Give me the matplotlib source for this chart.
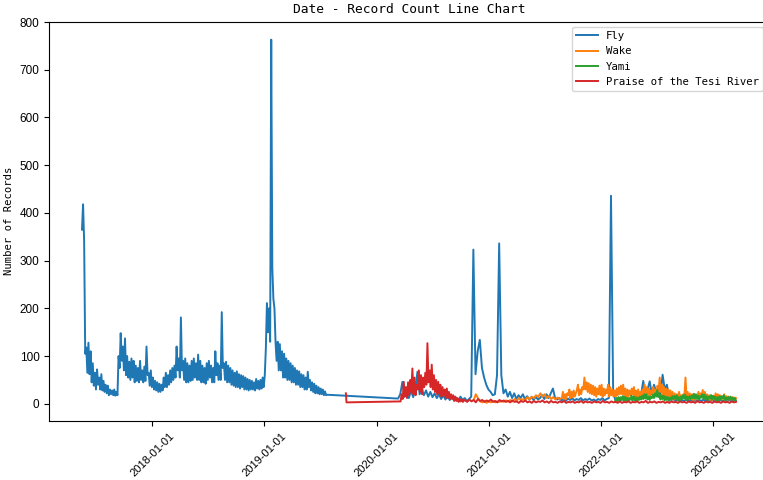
import pandas as pd
import matplotlib
matplotlib.use("Agg")
import matplotlib.pyplot as plt
import matplotlib.dates as mdates

# record counts (half-week steps in the dense parts)
fly_start_a = "2017-05-17"
fly_a = [365, 418, 340, 105, 118, 65, 128, 62, 110, 45, 85, 38, 65, 30, 72, 40,
         55, 30, 62, 28, 48, 25, 40, 22, 38, 18, 30, 20, 28, 18, 30, 17, 25, 18,
         100, 75, 148, 90, 120, 70, 137, 60, 100, 55, 88, 50, 95, 55, 90, 45,
         80, 48, 75, 45, 90, 50, 70, 45, 78, 48, 120, 60, 65, 38, 70, 35, 55, 30,
         48, 28, 45, 25, 42, 25, 40, 28, 55, 35, 65, 35, 60, 40, 70, 45, 75, 50,
         80, 55, 120, 70, 95, 55, 181, 70, 90, 50, 95, 45, 85, 45, 80, 48, 90, 50,
         95, 55, 85, 50, 103, 50, 90, 45, 80, 45, 75, 42, 85, 50, 90, 55, 80, 45,
         75, 45, 110, 60, 85, 50, 80, 50, 192, 75, 85, 50, 88, 45, 80, 45, 75, 40,
         70, 38, 65, 35, 68, 35, 62, 32, 60, 35, 58, 30, 55, 30, 52, 28, 50, 30,
         48, 30, 45, 28, 52, 32, 48, 30, 50, 32, 55, 35, 60, 116, 211, 150, 200, 130,
         763, 285, 220, 200, 130, 90, 130, 70, 125, 70, 110, 55, 105, 55, 95, 50,
         90, 50, 85, 45, 80, 45, 75, 40, 70, 40, 68, 35, 62, 35, 60, 30, 55, 30,
         67, 35, 50, 28, 45, 25, 42, 22, 38, 22, 35, 20, 32, 20, 30, 18, 26, 18, 19]
fly_start_b = "2020-03-11"
fly_b = [11, 20, 46, 15, 25, 12, 28, 14, 30, 67, 20, 32, 18, 28, 15, 25, 14, 22,
         12, 20, 10, 18, 9, 16, 8, 14, 7, 12, 6, 15, 8, 12, 6, 10, 15,
         323, 62, 110, 134, 75, 55, 40, 30, 25, 18,
         20, 60, 336, 60, 22, 30, 15, 25, 12, 22, 10, 18, 12, 20, 10, 16, 9, 14, 8, 15, 9, 12,
         18, 10, 20, 12, 22, 32, 12, 9, 12, 7, 10, 6, 11, 8, 12, 7, 10, 8, 12, 7, 10, 8, 11, 7, 9, 6, 10,
         8, 12, 7, 10, 12, 436, 25,
         8, 12, 7, 10, 9, 12, 7, 10, 8, 12, 9, 10,
         20, 48, 18, 30, 47, 20, 40, 25, 30, 20, 61, 30, 40, 12, 8, 10,
         6, 9, 5, 8, 6, 9, 5, 8, 6, 7, 5, 8, 6, 9, 5, 7, 6, 8, 5, 7, 6, 8, 5, 7, 6, 8, 5, 7, 6]

wake_start_a = "2020-11-12"
wake_a = [8, 20, 12, 5, 3, 6, 2, 5, 3, 6, 3, 5, 4, 6, 4, 7, 5,
          8, 5, 10, 6, 12, 7, 10, 8, 14, 9, 15, 12, 18, 14,
          22, 15, 20, 12, 16, 10, 14, 9, 13, 10]
wake_start_b = "2021-08-26"
wake_b = [12, 25, 10, 20, 10, 22, 18, 30, 12, 25, 14, 28, 15, 22, 29, 40, 18, 30,
          20, 35, 30, 55, 30, 45, 25, 43, 22, 40, 20, 38, 18, 35, 15, 32, 20, 38,
          18, 40, 15, 32, 18, 30, 22, 40, 15, 35, 18, 30, 15, 28, 15, 32, 18, 35,
          20, 38, 20, 40, 18, 32, 15, 30, 15, 28, 18, 32, 20, 35, 12, 28, 15, 30,
          15, 25, 18, 30, 18, 40, 20, 35, 20, 32, 15, 28, 22, 35, 18, 30, 18, 38,
          25, 55, 25, 40, 15, 35, 15, 32, 12, 30, 12, 28, 10, 25, 8, 22, 10, 20,
          10, 25, 12, 18, 15, 20, 15, 55, 12, 25, 10, 22, 10, 20, 8, 20, 8, 18,
          12, 25, 12, 22, 15, 29, 15, 25, 10, 20, 10, 18, 8, 18, 8, 16, 10, 22,
          12, 20, 9, 18, 9, 15, 10, 20, 10, 16, 8, 15, 8, 14, 9, 14, 9, 13, 12]

yami_start = "2022-02-16"
yami = [6, 12, 5, 14, 7, 14, 8, 16, 5, 15, 6, 13, 8, 12, 9, 17, 8, 16, 7, 14,
        6, 13, 8, 15, 9, 17, 10, 20, 11, 20, 9, 16, 8, 15, 12, 19, 12, 22, 15, 29,
        14, 22, 9, 18, 10, 17, 7, 15, 8, 14, 6, 13, 9, 16, 10, 16, 10, 18, 7, 14,
        7, 15, 10, 18, 11, 19, 8, 15, 9, 16, 10, 17, 12, 21, 11, 20, 10, 17, 9, 16,
        13, 20, 10, 19, 9, 16, 8, 15, 11, 18, 9, 17, 10, 15, 7, 14, 8, 16, 9, 16,
        11, 18, 7, 13, 9, 14, 8, 15, 10, 13, 6, 12, 8]

tesi_dates_a = ["2019-09-23", "2019-09-25"]
tesi_a = [22, 3]
tesi_start_b = "2020-03-19"
tesi_b = [5, 20, 10, 46, 15, 35, 12, 45, 18, 50, 25, 74, 20, 55, 18, 40, 30, 70,
          25, 60, 20, 55, 35, 65, 40, 127, 45, 70, 35, 82, 30, 60, 25, 50, 20, 46,
          22, 40, 15, 35, 18, 30, 12, 32, 12, 25, 10, 20, 10, 18, 6, 15, 6, 12,
          4, 10, 5, 9, 4, 8]
tesi_start_c = "2020-10-15"
tesi_c = [7, 4, 9, 5, 8, 3, 10, 6, 8, 4, 7, 5, 9, 4, 6, 3, 8, 5, 7, 4,
          6, 3, 7, 4, 5, 2, 6, 4, 7, 3, 5, 2, 6, 3, 5, 4, 7, 3, 5, 2,
          6, 3, 4, 2, 5, 3, 6, 2, 4, 3, 5, 2, 4, 3, 6, 2, 5, 3, 4, 2,
          5, 3, 4, 2, 6, 3, 4, 2, 5, 3, 4, 2, 5, 2, 4, 3, 5, 2, 4, 3,
          5, 2, 4, 3, 6, 2, 4, 3, 5, 2, 4, 3, 5, 2, 4, 2, 5, 3, 4, 2,
          5, 3, 4, 2, 5, 3, 4, 2, 6, 3, 4, 2, 5, 3, 4, 2, 5, 3, 4, 2,
          5, 3, 4, 2, 5, 3, 4]


def series(start, values, step="7D"):
    return pd.Series(values, index=pd.date_range(start, periods=len(values), freq=step))


half = "84h"
fly = pd.concat([series(fly_start_a, fly_a, half), series(fly_start_b, fly_b)])
wake_s = pd.concat([series(wake_start_a, wake_a), series(wake_start_b, wake_b, half)])
yami_s = series(yami_start, yami, half)
tesi = pd.concat([pd.Series(tesi_a, index=pd.to_datetime(tesi_dates_a)),
                  series(tesi_start_b, tesi_b, half),
                  series(tesi_start_c, tesi_c)])

plt.rcParams["font.family"] = ["Liberation Sans", "DejaVu Sans"]
mono = "DejaVu Sans Mono"

fig = plt.figure(figsize=(7.63, 4.8), dpi=100)
ax = fig.add_axes([0.0646, 0.1229, 0.9429, 0.8323])

lw = 1.4
ax.plot(fly.index, fly.values, color="#1f77b4", lw=lw, label="Fly")
ax.plot(wake_s.index, wake_s.values, color="#ff7f0e", lw=lw, label="Wake")
ax.plot(yami_s.index, yami_s.values, color="#2ca02c", lw=lw, label="Yami")
ax.plot(tesi.index, tesi.values, color="#d62728", lw=lw, label="Praise of the Tesi River")

ax.set_title("Date - Record Count Line Chart", family=mono, fontsize=9.3)
ax.set_ylabel("Number of Records", family=mono, fontsize=7.6)
ax.xaxis.set_major_locator(mdates.YearLocator())
ax.xaxis.set_major_formatter(mdates.DateFormatter("%Y-%m-%d"))
ax.tick_params(axis="y", labelsize=8.5)
ax.tick_params(axis="x", labelsize=8)
plt.setp(ax.get_xticklabels(), rotation=45)
ax.legend(loc="upper right", prop={"family": mono, "size": 7.7})

fig.savefig("out.png", dpi=100)
